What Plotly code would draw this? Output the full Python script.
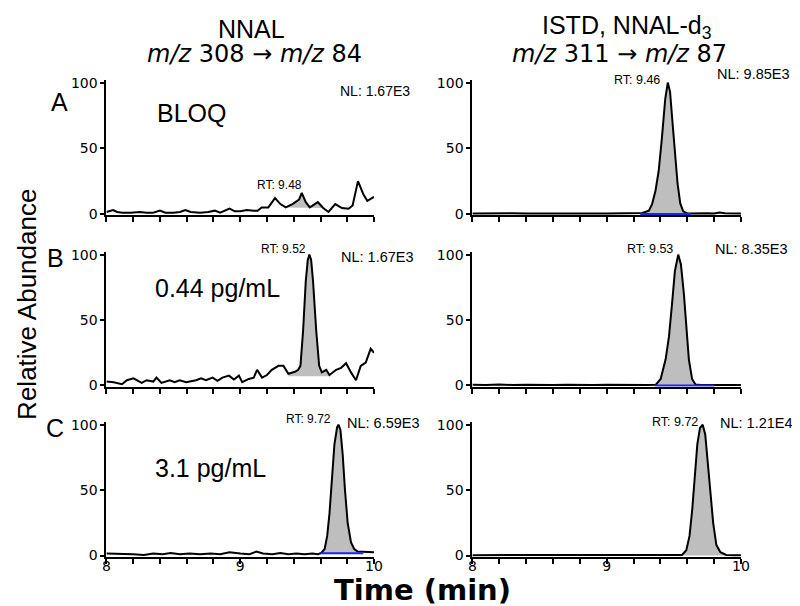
import plotly.graph_objects as go

W, H = 800, 606

# ---------------- data ----------------
x_tick_vals = [8.0, 8.2, 8.4, 8.6, 8.8, 9.0, 9.2, 9.4, 9.6, 9.8, 10.0]
x_tick_text = ["8", " ", " ", " ", " ", "9", " ", " ", " ", " ", "10"]
y_tick_vals = [0, 50, 100]
y_tick_text = ["0", "50", "100"]

# Row A, NNAL (BLOQ)
a_left_t = [8.00, 8.03, 8.05, 8.08, 8.12, 8.18, 8.25, 8.30, 8.35, 8.40, 8.44, 8.50, 8.55, 8.59,
            8.63, 8.70, 8.76, 8.81, 8.85, 8.92, 8.96, 9.00, 9.05, 9.10, 9.13, 9.16, 9.21, 9.26,
            9.30, 9.34, 9.39, 9.44, 9.46, 9.49, 9.52, 9.58, 9.62, 9.66, 9.71, 9.76, 9.81, 9.84,
            9.88, 9.92, 9.95, 10.0]
a_left_v = [1.5, 2.5, 3, 1.5, 1, 1, 1.5, 1, 1, 2.5, 1, 1, 1.5, 3,
            1.5, 1, 1.5, 2.5, 1, 4, 2, 2, 3, 2.5, 2.5, 5, 5, 12,
            7.5, 5, 7.5, 11, 16, 9, 5, 9, 4.5, 1.5, 7.5, 4.5, 4, 6.5,
            25, 15, 10, 13]

# Row A, ISTD
a_right_t = [8.00, 8.10, 8.20, 8.30, 8.40, 8.50, 8.60, 8.70, 8.80, 8.90, 9.00, 9.10, 9.20,
             9.265, 9.314, 9.338, 9.363, 9.387, 9.411, 9.436, 9.455, 9.472, 9.490, 9.509,
             9.528, 9.548, 9.570, 9.606, 9.65, 9.70, 9.75, 9.80, 9.84, 9.88, 9.93, 10.0]
a_right_v = [0.3, 0.5, 0.3, 0.5, 0.3, 0.5, 0.3, 0.3, 0.5, 0.3, 0.3, 0.5, 0.3,
             0.7, 2.5, 7.5, 17.5, 32.5, 57.5, 87.5, 100, 93, 70, 45,
             23, 8, 2, 0.3, 0.5, 0.3, 0.5, 0.3, 1, 0.5, 0.3, 0.3]

# Row B, NNAL 0.44 pg/mL
b_left_t = [8.000, 8.054, 8.116, 8.153, 8.202, 8.264, 8.300, 8.350, 8.374, 8.411, 8.473, 8.510,
            8.547, 8.596, 8.670, 8.707, 8.744, 8.793, 8.830, 8.867, 8.916, 8.953, 8.990, 9.015,
            9.064, 9.101, 9.126, 9.163, 9.200, 9.236, 9.286, 9.323, 9.360, 9.409, 9.433, 9.450,
            9.470, 9.490, 9.505, 9.517, 9.530, 9.544, 9.568, 9.590, 9.610, 9.643, 9.667, 9.717,
            9.754, 9.791, 9.828, 9.865, 9.901, 9.938, 9.975, 10.0]
b_left_v = [3, 2.5, 1, 4, 5.5, 2, 4, 3, 6, 2, 4, 2.5,
            4, 2.5, 4, 5.5, 4, 6, 3.5, 6, 7.5, 4.5, 7.5, 2.5,
            5, 6, 12, 6, 8, 12, 15, 15, 9, 10.5, 12, 15,
            42, 80, 96, 100, 96, 80, 42, 15, 10, 12, 8, 12,
            13.5, 17, 10, 4, 15, 17.5, 28, 25]

# Row B, ISTD
b_right_t = [8.00, 8.10, 8.20, 8.30, 8.40, 8.50, 8.60, 8.70, 8.80, 8.90, 9.00, 9.10, 9.20, 9.30,
             9.365, 9.402, 9.439, 9.464, 9.489, 9.508, 9.533, 9.553, 9.575, 9.592, 9.612,
             9.636, 9.661, 9.70, 9.75, 9.80, 9.85, 9.90, 9.95, 10.0]
b_right_v = [0.5, 0.3, 0.8, 0.3, 0.5, 0.3, 0.3, 0.5, 0.3, 0.3, 0.5, 0.3, 0.3, 0.3,
             0.5, 5, 20, 37.5, 65, 87.5, 100, 92.5, 70, 45, 20,
             5, 0.7, 0.3, 0.3, 0.5, 0.3, 0.3, 0.5, 0.3]

# Row C, NNAL 3.1 pg/mL
c_left_t = [8.00, 8.05, 8.10, 8.15, 8.20, 8.28, 8.35, 8.42, 8.48, 8.55, 8.62, 8.70, 8.78, 8.85,
            8.92, 9.00, 9.07, 9.12, 9.17, 9.24, 9.30, 9.36, 9.42, 9.48, 9.54, 9.58, 9.606,
            9.631, 9.650, 9.667, 9.685, 9.704, 9.724, 9.734, 9.749, 9.766, 9.783, 9.803, 9.828,
            9.852, 9.877, 9.926, 9.96, 10.0]
c_left_v = [1.5, 1.5, 1, 1.5, 1, 0.5, 1.5, 1, 2, 1, 1.5, 1, 1.5, 1,
            2.5, 1.5, 1, 3, 1.5, 1, 2, 1, 1.5, 1, 1.5, 1, 2,
            5, 15, 32, 57, 85, 98, 100, 96, 77, 50, 25, 10,
            5, 3, 3, 2.5, 2.5]

# Row C, ISTD
c_right_t = [8.00, 8.10, 8.20, 8.30, 8.40, 8.50, 8.60, 8.70, 8.80, 8.90, 9.00, 9.10, 9.20, 9.30,
             9.40, 9.50, 9.561, 9.593, 9.617, 9.637, 9.656, 9.675, 9.695, 9.715, 9.734, 9.754,
             9.773, 9.793, 9.817, 9.847, 9.890, 9.95, 10.0]
c_right_v = [0.3, 0.3, 0.5, 0.3, 0.3, 0.5, 0.3, 0.3, 0.3, 0.5, 0.3, 0.3, 0.3, 0.3,
             0.3, 0.3, 0.5, 4, 15, 35, 60, 85, 97.5, 100, 92.5, 72.5,
             48, 25, 8, 2.5, 0.5, 0.3, 0.3]

# integrated peak windows: (start, end, baseline at start, baseline at end)
a_left_peak = (9.34, 9.62, 5, 4.5)
a_right_peak = (9.265, 9.606, 0, 0)
b_left_peak = (9.36, 9.667, 7, 7)
b_right_peak = (9.365, 9.661, 0, 0)
c_left_peak = (9.606, 9.877, 1.7, 1.7)
c_right_peak = (9.561, 9.890, 0, 0)

# blue baselines: (start, end, level) or None
a_left_base = None
a_right_base = (9.25, 9.63, 0)
b_left_base = None
b_right_base = (9.36, 9.80, 0)
c_left_base = (9.60, 9.92, 1.7)
c_right_base = None

# ---------------- layout geometry (pixels) ----------------
left_x = (96, 368)
right_x = (468, 741)
rows_y = [(205, 71), (380, 246.5), (553.5, 420)]   # (pixel of 0, pixel of 100)
Y_RANGE = [-1, 102]

fig = go.Figure()

panels = [
    (a_left_t, a_left_v, a_left_peak, a_left_base),
    (a_right_t, a_right_v, a_right_peak, a_right_base),
    (b_left_t, b_left_v, b_left_peak, b_left_base),
    (b_right_t, b_right_v, b_right_peak, b_right_base),
    (c_left_t, c_left_v, c_left_peak, c_left_base),
    (c_right_t, c_right_v, c_right_peak, c_right_base),
]

axis_font = dict(family="DejaVu Sans", size=14, color="black")

for i, (t, v, peak, base) in enumerate(panels):
    n = i + 1
    xa = "x" if n == 1 else f"x{n}"
    ya = "y" if n == 1 else f"y{n}"
    row = i // 2
    col = i % 2
    xpix = left_x if col == 0 else right_x
    y0p, y100p = rows_y[row]
    ppu = (y0p - y100p) / 100.0
    bot = y0p + (0 - Y_RANGE[0]) * ppu
    top = y100p - (Y_RANGE[1] - 100) * ppu

    # filled peak area
    t0, t1, b0, b1 = peak
    fx = [ti for ti in t if t0 <= ti <= t1]
    fy = [vi for ti, vi in zip(t, v) if t0 <= ti <= t1]
    fig.add_trace(go.Scatter(x=fx + [t1, t0], y=fy + [b1, b0], fill="toself",
                             fillcolor="#bebebe", line=dict(width=0), mode="lines",
                             xaxis=xa, yaxis=ya, showlegend=False, hoverinfo="skip"))
    # chromatogram
    fig.add_trace(go.Scatter(x=t, y=v, mode="lines", line=dict(color="black", width=2),
                             xaxis=xa, yaxis=ya, showlegend=False))
    if base is not None:
        fig.add_trace(go.Scatter(x=[base[0], base[1]], y=[base[2], base[2]], mode="lines",
                                 line=dict(color="#1f1fff", width=2),
                                 xaxis=xa, yaxis=ya, showlegend=False))

    xkey = "xaxis" if n == 1 else f"xaxis{n}"
    ykey = "yaxis" if n == 1 else f"yaxis{n}"
    fig.update_layout(**{
        xkey: dict(domain=[xpix[0] / W, xpix[1] / W], range=[8, 10], anchor=ya,
                   showline=True, linecolor="black", linewidth=2, showgrid=False,
                   zeroline=False, ticks="outside", ticklen=5, tickwidth=1.5,
                   tickcolor="black", tickvals=x_tick_vals, ticktext=x_tick_text,
                   showticklabels=(row == 2), tickfont=axis_font, layer="below traces",
                   ticklabelstandoff=-10),
        ykey: dict(domain=[1 - bot / H, 1 - top / H], range=Y_RANGE, anchor=xa,
                   showline=True, linecolor="black", linewidth=2, showgrid=False,
                   zeroline=False, ticks="outside", ticklen=4, tickwidth=1.5,
                   tickcolor="black", tickvals=y_tick_vals, ticktext=y_tick_text,
                   tickfont=axis_font, layer="below traces"),
    })

def ann(text, x, y, size, family="Liberation Sans", **kw):
    d = dict(text=text, x=x / W, y=1 - y / H, xref="paper", yref="paper",
             xanchor="center", yanchor="middle", showarrow=False,
             font=dict(family=family, size=size, color="black"))
    d.update(kw)
    return d

annotations = [
    ann("NNAL", 243, 16, 25),
    ann("<i>m/z</i> 308 → <i>m/z</i> 84", 247, 42, 24, family="DejaVu Sans"),
    ann("ISTD, NNAL-d<sub>3</sub>", 625, 14, 25),
    ann("<i>m/z</i> 311 → <i>m/z</i> 87", 618, 42, 24, family="DejaVu Sans"),
    ann("A", 48, 91, 25),
    ann("B", 44, 250, 25),
    ann("C", 44, 423, 25),
    ann("BLOQ", 182, 102, 25),
    ann("0.44 pg/mL", 209, 281, 25),
    ann("3.1 pg/mL", 202, 464, 25),
    ann("NL: 1.67E3", 369, 80, 14),
    ann("NL: 9.85E3", 754, 62, 14.5),
    ann("NL: 1.67E3", 372, 249, 14.5),
    ann("NL: 8.35E3", 752, 241, 14.5),
    ann("NL: 6.59E3", 378, 418, 14.5),
    ann("NL: 1.21E4", 757, 418, 14.5),
    ann("RT: 9.48", 272, 175, 12),
    ann("RT: 9.46", 635, 68, 12.5),
    ann("RT: 9.52", 276, 241, 12),
    ann("RT: 9.53", 649, 241, 12.5),
    ann("RT: 9.72", 301, 414, 12),
    ann("RT: 9.72", 674, 417, 12.5),
    ann("Relative Abundance", 15, 297, 26, textangle=-90),
    ann("<b>Time (min)</b>", 417, 589, 29, family="DejaVu Sans"),
]

fig.update_layout(width=W, height=H, margin=dict(l=0, r=0, t=0, b=0),
                  paper_bgcolor="white", plot_bgcolor="white",
                  annotations=annotations, showlegend=False)

fig.write_html("out.html")
